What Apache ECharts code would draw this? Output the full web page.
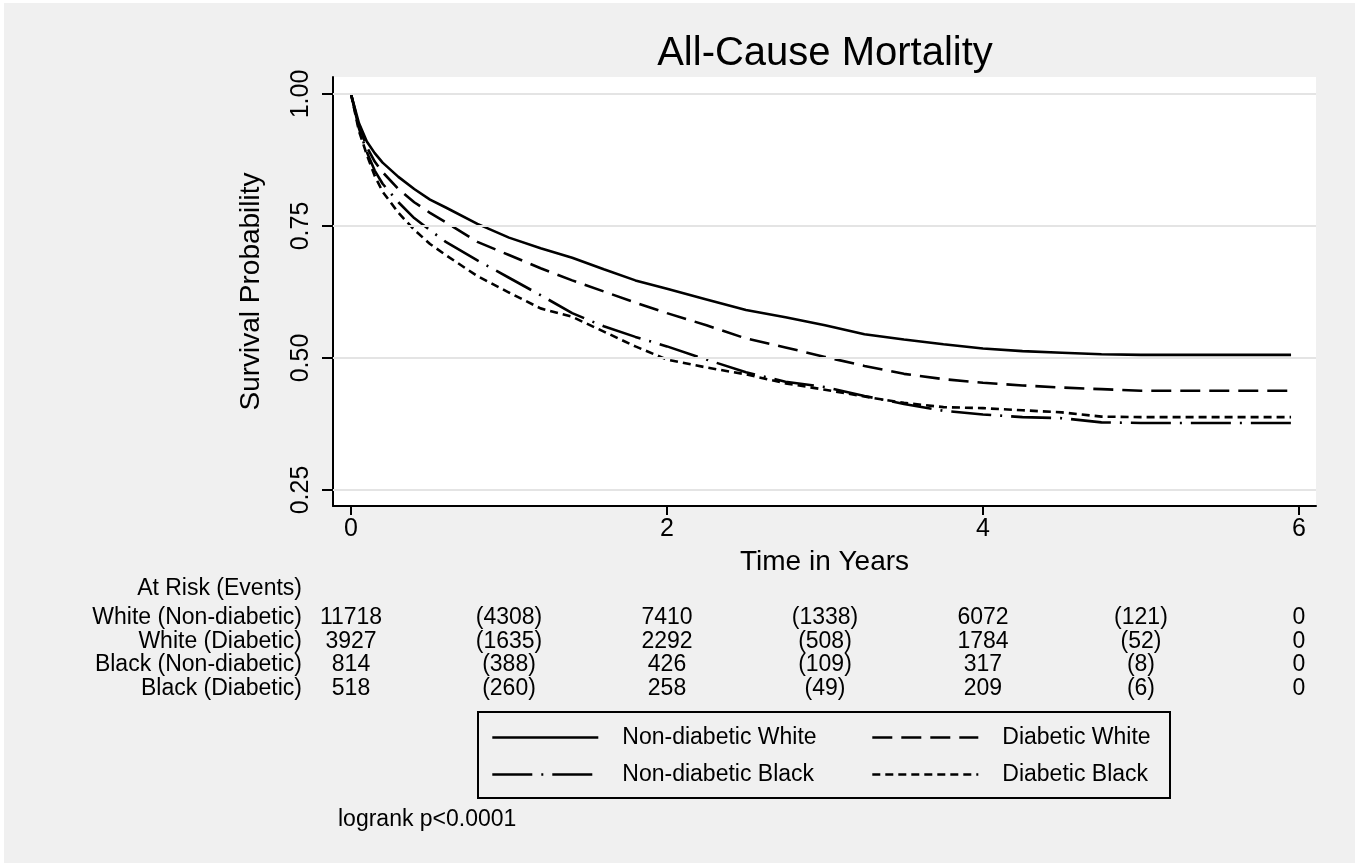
<!DOCTYPE html>
<html><head><meta charset="utf-8">
<script src="https://cdn.jsdelivr.net/npm/echarts@6/dist/echarts.min.js"></script>
<style>html,body{margin:0;padding:0;background:#fff;}#c{position:absolute;left:0;top:0;width:1355px;height:863px;}</style>
</head><body><div id="c"></div>
<script>
// ---- data ----
const times = [0, 0.05, 0.1, 0.15, 0.2, 0.3, 0.4, 0.5, 0.6, 0.8, 1.0, 1.2, 1.4, 1.6, 1.8, 2.0, 2.25, 2.5, 2.75, 3.0, 3.25, 3.5, 3.75, 4.0, 4.25, 4.5, 4.75, 5.0, 5.5, 5.95];
const nonDiabeticWhite = [1, 0.945, 0.91, 0.888, 0.87, 0.843, 0.82, 0.80, 0.785, 0.754, 0.728, 0.708, 0.690, 0.668, 0.647, 0.631, 0.611, 0.591, 0.577, 0.562, 0.545, 0.535, 0.526, 0.518, 0.513, 0.510, 0.507, 0.506, 0.506, 0.506];
const diabeticWhite = [1, 0.94, 0.90, 0.872, 0.852, 0.82, 0.795, 0.775, 0.757, 0.72, 0.695, 0.670, 0.647, 0.626, 0.605, 0.585, 0.562, 0.537, 0.52, 0.502, 0.485, 0.47, 0.46, 0.453, 0.448, 0.444, 0.441, 0.438, 0.438, 0.438];
const nonDiabeticBlack = [1, 0.935, 0.89, 0.855, 0.83, 0.795, 0.765, 0.742, 0.72, 0.685, 0.652, 0.619, 0.585, 0.56, 0.54, 0.522, 0.497, 0.473, 0.455, 0.445, 0.428, 0.413, 0.40, 0.393, 0.388, 0.386, 0.378, 0.377, 0.377, 0.377];
const diabeticBlack = [1, 0.93, 0.885, 0.845, 0.815, 0.775, 0.743, 0.716, 0.695, 0.655, 0.624, 0.594, 0.578, 0.55, 0.522, 0.497, 0.482, 0.469, 0.452, 0.44, 0.427, 0.415, 0.407, 0.405, 0.401, 0.397, 0.389, 0.388, 0.388, 0.388];
const seriesNames = ['Non-diabetic White', 'Diabetic White', 'Non-diabetic Black', 'Diabetic Black'];
const xTicks = [0, 2, 4, 6];
const yTicks = [0.25, 0.5, 0.75, 1.0];
const riskHeader = 'At Risk (Events)';
const riskRowLabels = ['White (Non-diabetic)', 'White (Diabetic)', 'Black (Non-diabetic)', 'Black (Diabetic)'];
const atRiskTimes = [0, 2, 4, 6];
const eventTimes = [1, 3, 5];
const atRiskWND = [11718, 7410, 6072, 0];
const eventsWND = [4308, 1338, 121];
const atRiskWD = [3927, 2292, 1784, 0];
const eventsWD = [1635, 508, 52];
const atRiskBND = [814, 426, 317, 0];
const eventsBND = [388, 109, 8];
const atRiskBD = [518, 258, 209, 0];
const eventsBD = [260, 49, 6];
const titleText = 'All-Cause Mortality';
const xName = 'Time in Years';
const yName = 'Survival Probability';
const noteText = 'logrank p<0.0001';

// ---- chart ----
const FONT = '"Liberation Sans", Arial, Helvetica, sans-serif';
const chart = echarts.init(document.getElementById('c'), null, {renderer: 'canvas'});
const curves = [nonDiabeticWhite, diabeticWhite, nonDiabeticBlack, diabeticBlack];
const dashes = ['solid', [20, 9], [40, 9, 2, 9], [8, 5]];
const series = [{
  type: 'line', name: '_grid', data: [], z: 1, silent: true,
  markLine: {
    silent: true, symbol: ['none', 'none'], animation: false,
    label: {show: false},
    lineStyle: {color: '#e4e4e4', width: 2, type: 'solid'},
    emphasis: {disabled: true},
    data: yTicks.map(v => ({yAxis: v}))
  }
}];
curves.forEach((vals, i) => {
  series.push({
    type: 'line', name: seriesNames[i], z: 3,
    data: times.map((t, k) => [t, vals[k]]),
    symbol: 'none', showSymbol: false, smooth: false,
    lineStyle: {color: '#000', width: 2.6, type: dashes[i], cap: 'butt'},
    itemStyle: {color: '#000'},
    emphasis: {disabled: true}
  });
});
const legendCommon = {
  orient: 'vertical', top: 726, itemWidth: 106, itemHeight: 14, itemGap: 14,
  selectedMode: false, padding: 0,
  itemStyle: {opacity: 0, borderWidth: 0},
  lineStyle: {width: 2.6},
  textStyle: {fontSize: 23, lineHeight: 22, color: '#000', fontFamily: FONT, padding: [0, 0, 0, 19]}
};
chart.setOption({
  animation: false,
  backgroundColor: '#f0f0f0',
  title: {
    text: titleText, left: 825, top: 34, textAlign: 'center', padding: 0,
    textStyle: {fontSize: 40, fontWeight: 'normal', color: '#000', fontFamily: FONT}
  },
  grid: {left: 333, right: 39, top: 77, bottom: 357, show: true, backgroundColor: '#fff', borderWidth: 0, containLabel: false},
  legend: [
    Object.assign({left: 491, data: [seriesNames[0], seriesNames[2]]}, legendCommon),
    Object.assign({left: 871, data: [seriesNames[1], seriesNames[3]]}, legendCommon)
  ],
  xAxis: {
    type: 'value', min: -0.114, max: 6.108,
    axisLine: {show: true, onZero: false, lineStyle: {color: '#000', width: 2}},
    axisTick: {show: true, customValues: xTicks, length: 9, lineStyle: {color: '#000', width: 2}},
    axisLabel: {customValues: xTicks, fontSize: 25, color: '#000', margin: 11, fontFamily: FONT},
    splitLine: {show: false},
    name: xName, nameLocation: 'middle', nameGap: 42,
    nameTextStyle: {fontSize: 28, color: '#000', fontFamily: FONT}
  },
  yAxis: {
    type: 'value', min: 0.2197, max: 1.0322,
    axisLine: {show: true, onZero: false, lineStyle: {color: '#000', width: 2}},
    axisTick: {show: true, customValues: yTicks, length: 11, lineStyle: {color: '#000', width: 2}},
    axisLabel: {customValues: yTicks, rotate: 90, fontSize: 25, color: '#000', margin: 19, fontFamily: FONT,
      formatter: v => Number(v).toFixed(2)},
    splitLine: {show: false},
    name: yName, nameLocation: 'middle', nameGap: 68,
    nameTextStyle: {fontSize: 28, color: '#000', fontFamily: FONT}
  },
  series: series
});

// ---- at-risk table, legend box, note ----
const gx = t => chart.convertToPixel({xAxisIndex: 0}, t);
const txt = (text, x, y, align, size) => ({
  type: 'text', silent: true, z: 10,
  style: {text: String(text), x: x, y: y, align: align, verticalAlign: 'middle',
    fill: '#000', fontSize: size || 23, fontFamily: FONT}
});
const rowY = [618, 641.5, 665, 688.5];
const atRisk = [atRiskWND, atRiskWD, atRiskBND, atRiskBD];
const events = [eventsWND, eventsWD, eventsBND, eventsBD];
const g = [];
g.push({type: 'rect', silent: true, shape: {x: 0, y: 0, width: 1355, height: 3}, style: {fill: '#fff'}});
g.push({type: 'rect', silent: true, shape: {x: 0, y: 0, width: 4, height: 863}, style: {fill: '#fff'}});
g.push(txt(riskHeader, 302, 589, 'right'));
riskRowLabels.forEach((lab, r) => {
  g.push(txt(lab, 302, rowY[r], 'right'));
  atRiskTimes.forEach((t, k) => g.push(txt(atRisk[r][k], gx(t), rowY[r], 'center')));
  eventTimes.forEach((t, k) => g.push(txt('(' + events[r][k] + ')', gx(t), rowY[r], 'center')));
});
g.push({type: 'rect', silent: true, z: 5, shape: {x: 478, y: 712, width: 692, height: 86},
  style: {fill: null, stroke: '#000', lineWidth: 2}});
g.push(txt(noteText, 338, 820, 'left'));
chart.setOption({graphic: g});
</script>
</body></html>
